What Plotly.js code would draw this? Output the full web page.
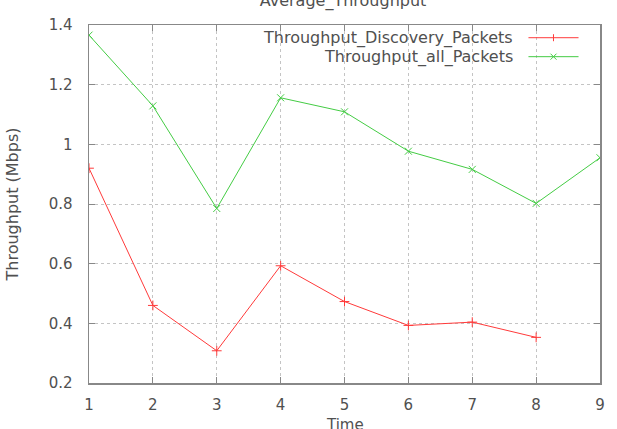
<!DOCTYPE html>
<html>
<head>
<meta charset="utf-8">
<script src="https://cdn.plot.ly/plotly-3.0.1.min.js"></script>
<style>html,body{margin:0;padding:0;background:#fff}#chart{width:617px;height:429px}</style>
</head>
<body>
<div id="chart"></div>
<script>
const timeSteps = [1, 2, 3, 4, 5, 6, 7, 8, 9];
const discoveryTime = [1, 2, 3, 4, 5, 6, 7, 8];
const discoveryThroughput = [0.920, 0.460, 0.308, 0.593, 0.473, 0.393, 0.404, 0.353];
const allThroughput = [1.366, 1.129, 0.785, 1.156, 1.109, 0.977, 0.916, 0.802, 0.955];
const seriesNames = ["Throughput_Discovery_Packets", "Throughput_all_Packets"];
const yTicks = [0.2, 0.4, 0.6, 0.8, 1, 1.2, 1.4];
const yTickLabels = ["0.2", "0.4", "0.6", "0.8", "1", "1.2", "1.4"];
const xAxisTitle = "Time";

const red = "#ff3a3a";
const green = "#44cc44";
const txt = "#505050";
const fontFam = "DejaVu Sans, sans-serif";

const traces = [
  {x: discoveryTime, y: discoveryThroughput, type: "scatter", mode: "lines+markers",
   name: seriesNames[0], line: {color: red, width: 1},
   marker: {symbol: "cross-thin", size: 7, line: {color: red, width: 1}}},
  {x: timeSteps, y: allThroughput, type: "scatter", mode: "lines+markers",
   name: seriesNames[1], line: {color: green, width: 1},
   marker: {symbol: "x-thin", size: 7, line: {color: green, width: 1}}}
];

const axisCommon = {
  showline: true, linecolor: "#888888", linewidth: 1.5, mirror: "ticks",
  ticks: "inside", ticklen: 6, tickcolor: "#888888", tickwidth: 1,
  showgrid: true, gridcolor: "#c4c4c4", griddash: "dot", gridwidth: 1,
  zeroline: false, tickfont: {family: fontFam, size: 15, color: txt}
};

const legendRows = [0.9645, 0.9115];
const shapes = [
  {type: "rect", xref: "paper", yref: "paper", x0: 0.17, x1: 0.997, y0: 0.885, y1: 0.997,
   fillcolor: "#ffffff", line: {width: 0}, layer: "between"}
];
const annotations = [
  {xref: "paper", yref: "paper", x: 0.5, y: -0.116, xanchor: "center", yanchor: "middle",
   text: xAxisTitle, showarrow: false, font: {family: fontFam, size: 15, color: txt}}
];
const symbols = ["plus", "x"];
[red, green].forEach((c, i) => {
  const yy = legendRows[i];
  shapes.push({type: "line", xref: "paper", yref: "paper", x0: 0.86, x1: 0.958, y0: yy, y1: yy,
    line: {color: c, width: 1}});
  if (symbols[i] === "plus") {
    shapes.push({type: "line", xref: "paper", yref: "paper", xsizemode: "pixel", ysizemode: "pixel",
      xanchor: 0.909, yanchor: yy, x0: 0, x1: 0, y0: -3.5, y1: 3.5, line: {color: c, width: 1}});
  } else {
    shapes.push({type: "line", xref: "paper", yref: "paper", xsizemode: "pixel", ysizemode: "pixel",
      xanchor: 0.909, yanchor: yy, x0: -3, x1: 3, y0: -3, y1: 3, line: {color: c, width: 1}});
    shapes.push({type: "line", xref: "paper", yref: "paper", xsizemode: "pixel", ysizemode: "pixel",
      xanchor: 0.909, yanchor: yy, x0: -3, x1: 3, y0: 3, y1: -3, line: {color: c, width: 1}});
  }
  annotations.push({xref: "paper", yref: "paper", x: 0.834, y: yy, xanchor: "right", yanchor: "middle",
    text: seriesNames[i], showarrow: false, font: {family: fontFam, size: 16, color: txt}});
});

const layout = {
  width: 617, height: 429,
  margin: {l: 89, r: 17, t: 25, b: 46},
  paper_bgcolor: "#ffffff", plot_bgcolor: "#ffffff",
  showlegend: false,
  title: {text: "Average_Throughput", x: 0.556, xanchor: "center", xref: "container",
          y: 1.0, yref: "container", yanchor: "middle",
          font: {family: fontFam, size: 16, color: txt}},
  xaxis: Object.assign({}, axisCommon, {range: [1, 9], tickvals: timeSteps, ticklabelstandoff: 7}),
  yaxis: Object.assign({}, axisCommon, {range: [0.2, 1.4], tickvals: yTicks, ticktext: yTickLabels,
    ticklabelstandoff: 12,
    title: {text: "Throughput (Mbps)", standoff: 26, font: {family: fontFam, size: 16, color: txt}}}),
  shapes: shapes,
  annotations: annotations
};

Plotly.newPlot("chart", traces, layout, {displayModeBar: false, staticPlot: true});
</script>
</body>
</html>
